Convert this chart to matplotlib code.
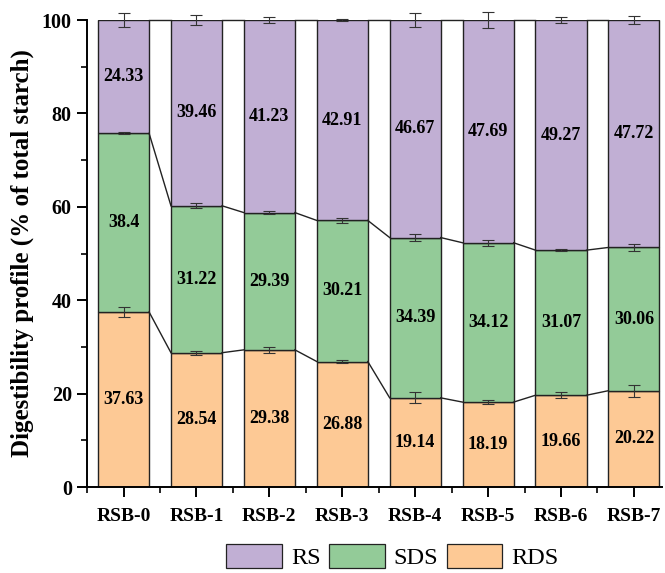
import numpy as np
import matplotlib.pyplot as plt
from matplotlib.ticker import MultipleLocator
from matplotlib.patches import Patch

plt.rcParams['font.family'] = ['Liberation Serif', 'DejaVu Serif']

samples = ['RSB-0', 'RSB-1', 'RSB-2', 'RSB-3', 'RSB-4', 'RSB-5', 'RSB-6', 'RSB-7']
rds = np.array([37.63, 28.54, 29.38, 26.88, 19.14, 18.19, 19.66, 20.22])
sds = np.array([38.4, 31.22, 29.39, 30.21, 34.39, 34.12, 31.07, 30.06])
rs = np.array([24.33, 39.46, 41.23, 42.91, 46.67, 47.69, 49.27, 47.72])

# standard deviations (already on the percent scale)
rds_err = np.array([1.05, 0.45, 0.7, 0.4, 1.15, 0.5, 0.65, 1.25])
sds_err = np.array([0.2, 0.5, 0.3, 0.55, 0.75, 0.6, 0.15, 0.8])
rs_err = np.array([1.45, 1.1, 0.65, 0.15, 1.45, 1.75, 0.7, 0.8])

colors = {'RS': '#C1AFD4', 'SDS': '#93CB98', 'RDS': '#FDC995'}

# percent-stacked: each sample normalised to 100 %
total = rds + sds + rs
rds_p = rds / total * 100
sds_p = sds / total * 100
rs_p = rs / total * 100

x = np.arange(len(samples))
width = 0.7

fig = plt.figure(figsize=(6.65, 5.73), dpi=100)
ax = fig.add_axes([0.131, 0.150, 0.865, 0.815])

segments = [
    ('RDS', rds_p, np.zeros_like(rds_p), rds, rds_err),
    ('SDS', sds_p, rds_p, sds, sds_err),
    ('RS', rs_p, rds_p + sds_p, rs, rs_err),
]

for name, h, bottom, vals, err in segments:
    ax.bar(x, h, width, bottom=bottom, color=colors[name], edgecolor='#222222',
           linewidth=1.0, zorder=2)
    tops = bottom + h
    ax.errorbar(x, tops, yerr=err, fmt='none', ecolor='#333333', elinewidth=0.8,
                capsize=4, capthick=0.8, zorder=4, clip_on=False)
    for xi, b, hi, v in zip(x, bottom, h, vals):
        ax.text(xi, b + hi / 2, f'{v:g}', ha='center', va='center',
                fontsize=13, fontweight='bold', zorder=5)
    # link the segment tops between neighbouring bars
    for i in range(len(x) - 1):
        ax.plot([x[i] + width / 2, x[i + 1] - width / 2], [tops[i], tops[i + 1]],
                color='#222222', linewidth=1.0, zorder=3, clip_on=False)

ax.set_xlim(-0.5, 7.39)
ax.set_ylim(0, 100)
ax.set_xticks(x)
ax.set_xticklabels(samples, fontsize=14, fontweight='bold')
ax.xaxis.set_minor_locator(MultipleLocator(1, offset=0.5))
ax.yaxis.set_major_locator(MultipleLocator(20))
ax.yaxis.set_minor_locator(MultipleLocator(10))
for lab in ax.get_yticklabels():
    lab.set_fontsize(14.5)
    lab.set_fontweight('bold')

ax.tick_params(which='major', direction='out', length=7, width=1.4, pad=4)
ax.tick_params(which='minor', direction='out', length=4, width=1.2)
ax.tick_params(axis='x', which='major', pad=8)

for side in ['top', 'right']:
    ax.spines[side].set_visible(False)
for side in ['left', 'bottom']:
    ax.spines[side].set_linewidth(1.4)

ax.set_ylabel('Digestibility profile (% of total starch)', fontsize=18,
              fontweight='bold', labelpad=6)

handles = [Patch(facecolor=colors[n], edgecolor='#222222', linewidth=0.9)
           for n in ['RS', 'SDS', 'RDS']]
fig.legend(handles, ['RS', 'SDS', 'RDS'], loc='lower center',
           bbox_to_anchor=(0.59, -0.016), ncol=3, frameon=False, fontsize=17.5,
           handlelength=2.3, handleheight=1.15, handletextpad=0.35,
           columnspacing=0.35, borderpad=0.05)

fig.savefig('out.png', dpi=100)
